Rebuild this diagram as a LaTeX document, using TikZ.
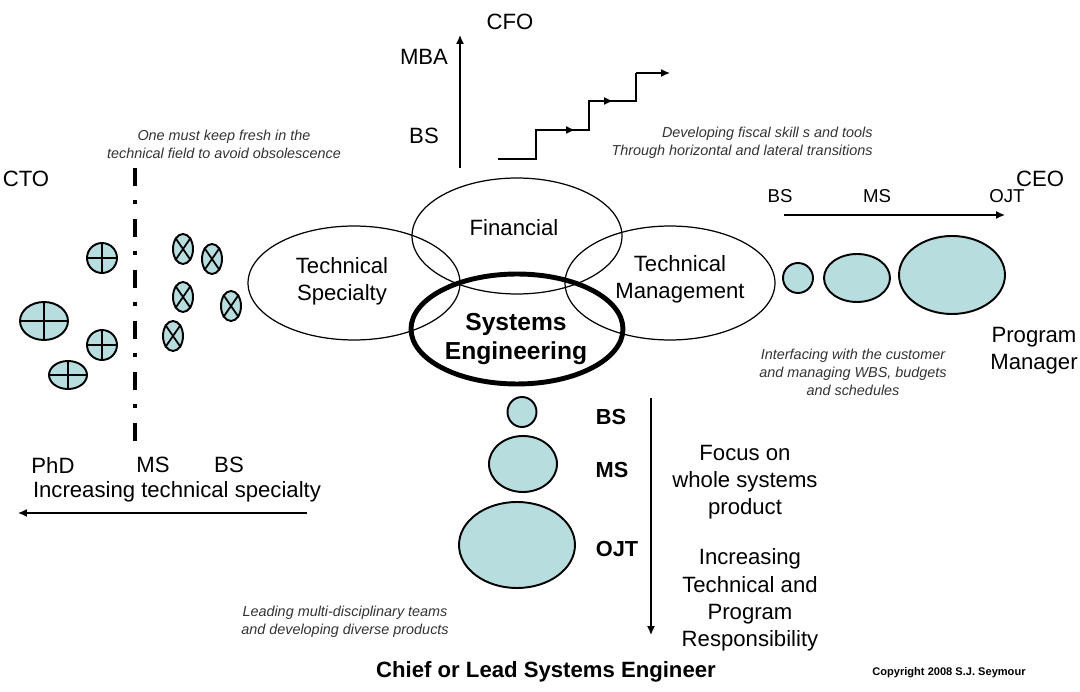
\documentclass[tikz,border=0pt]{standalone}
\usepackage{fontspec}
\setmainfont{Liberation Sans}
\usetikzlibrary{shapes.geometric,arrows.meta}
\definecolor{bubblefill}{RGB}{183,221,222}

\begin{document}
\begin{tikzpicture}[x=0.02cm, y=-0.02cm, inner sep=0pt,
	big/.style={font=\fontsize{12.6}{15.5}\selectfont, align=center},
	mid/.style={font=\fontsize{10.6}{12}\selectfont},
	bmid/.style={font=\fontsize{12.4}{14}\selectfont\bfseries},
	note/.style={font=\fontsize{8.2}{10.2}\selectfont\itshape, align=center, text=black!80},
	venn/.style 2 args={ellipse, draw, line width=0.7pt, minimum width=#1, minimum height=#2},
	bubble/.style 2 args={ellipse, draw, fill=bubblefill, line width=1.1pt, minimum width=#1, minimum height=#2},
	arr/.style={-{Latex[length=5pt,width=4.5pt]}, line width=0.8pt}]

	\useasboundingbox (0,0) rectangle (1080,692);

	% venn of the four fields
	\node[venn={4.24cm}{2.28cm}] (spec) at (354,283) {};
	\node[venn={4.2cm}{2.32cm}] (fin) at (517,236) {};
	\node[venn={4.2cm}{2.28cm}] (mgmt) at (670,283) {};
	\node[ellipse, draw, line width=2.8pt, minimum width=4.24cm, minimum height=2.2cm] (se) at (517,329) {};

	\node[big] (spect) at (342,281) {Technical\\Specialty};
	\node[big] (fint) at (514,228) {Financial};
	\node[big] (mgmtt) at (680,279) {Technical\\Management};
	\node[big, font=\fontsize{14}{17}\selectfont\bfseries] (set) at (516,339) {Systems\\Engineering};

	% financial path
	\node[big] (cfo) at (510,22) {CFO};
	\node[big] (mba) at (424,57) {MBA};
	\node[big] (bsf) at (424,136) {BS};
	\coordinate (f0) at (460,168);
	\coordinate (f1) at (460,35);
	\draw[arr] (f0) -- (f1);

	\coordinate (s0) at (498,159);
	\coordinate (s1) at (536,130);
	\coordinate (s2) at (589,101);
	\coordinate (s3) at (636,73);
	\coordinate (s4) at (670,73);
	\draw[line width=0.8pt] (s0) -| (s1) -| (s2) -| (s3);
	\draw[arr] (s1) -- +(39,0);
	\draw[arr] (s2) -- +(24,0);
	\draw[arr] (s3) -- (s4);
	\node[note, align=right, anchor=east] (fiscal) at (873,143) {Developing fiscal skill s and tools\\Through horizontal and lateral transitions};

	% technical specialty path
	\node[note] (fresh) at (224,144) {One must keep fresh in the\\technical field to avoid obsolescence};
	\node[big] (cto) at (26,179) {CTO};
	\coordinate (d0) at (135,168);
	\coordinate (d1) at (135,451);
	\draw[line width=2.3pt, dash pattern=on 10.2pt off 8pt on 2.3pt off 8.5pt] (d0) -- (d1);

	\node[bubble={0.6cm}{0.6cm}] (p1) at (102,258) {};
	\node[bubble={0.96cm}{0.76cm}] (p2) at (44,321) {};
	\node[bubble={0.6cm}{0.6cm}] (p3) at (102,345) {};
	\node[bubble={0.76cm}{0.56cm}] (p4) at (68,375) {};
	\foreach \n in {p1,p2,p3,p4}
		\draw[line width=1.1pt] (\n.north) -- (\n.south) (\n.west) -- (\n.east);

	\node[bubble={0.4cm}{0.6cm}] (x1) at (183,249) {};
	\node[bubble={0.4cm}{0.6cm}] (x2) at (212,259) {};
	\node[bubble={0.4cm}{0.6cm}] (x3) at (183,297) {};
	\node[bubble={0.4cm}{0.6cm}] (x4) at (231,306) {};
	\node[bubble={0.4cm}{0.6cm}] (x5) at (173,336) {};
	\foreach \n in {x1,x2,x3,x4,x5}
		\draw[line width=1pt] (\n.north east) -- (\n.south west) (\n.north west) -- (\n.south east);

	\node[big] (phd) at (53,465) {PhD};
	\node[big] (msl) at (153,465) {MS};
	\node[big] (bsl) at (229,465) {BS};
	\node[big] (incspec) at (177,492) {Increasing technical specialty};
	\coordinate (l0) at (307,513);
	\coordinate (l1) at (18,513);
	\draw[arr] (l0) -- (l1);

	% management path
	\node[big] (ceo) at (1040,179) {CEO};
	\node[mid] (bsr) at (780,196) {BS};
	\node[mid] (msr) at (877,196) {MS};
	\node[mid] (ojtr) at (1007,196) {OJT};
	\coordinate (r0) at (784,215);
	\coordinate (r1) at (1005,215);
	\draw[arr] (r0) -- (r1);
	\node[bubble={0.6cm}{0.6cm}] (r-bs) at (798,278) {};
	\node[bubble={1.32cm}{0.96cm}] (r-ms) at (857,278) {};
	\node[bubble={2.12cm}{1.56cm}] (r-ojt) at (952,275) {};
	\node[big] (pm) at (1034,351) {Program\\Manager};
	\node[note] (iface) at (853,372) {Interfacing with the customer\\and managing WBS, budgets\\and schedules};

	% systems engineering path
	\node[bubble={0.58cm}{0.6cm}] (b-bs) at (522,412) {};
	\node[bubble={1.36cm}{1.12cm}] (b-ms) at (523,464) {};
	\node[bubble={2.32cm}{1.72cm}] (b-ojt) at (517,545) {};
	\node[bmid] (bsb) at (611,417) {BS};
	\node[bmid] (msb) at (612,470) {MS};
	\node[bmid] (ojtb) at (617,549) {OJT};
	\coordinate (v0) at (651,398);
	\coordinate (v1) at (651,635);
	\draw[arr] (v0) -- (v1);
	\node[big] (focus) at (745,482) {Focus on\\whole systems\\product};
	\node[big] (incresp) at (750,600) {Increasing\\Technical and\\Program\\Responsibility};
	\node[note] (lead) at (345,622) {Leading multi-disciplinary teams\\and developing diverse products};
	\node[big, font=\fontsize{12.6}{15}\selectfont\bfseries] (chief) at (546,672) {Chief or Lead Systems Engineer};
	\node[font=\fontsize{6.3}{7}\selectfont\bfseries] (copy) at (949,673) {Copyright 2008 S.J. Seymour};
\end{tikzpicture}
\end{document}
